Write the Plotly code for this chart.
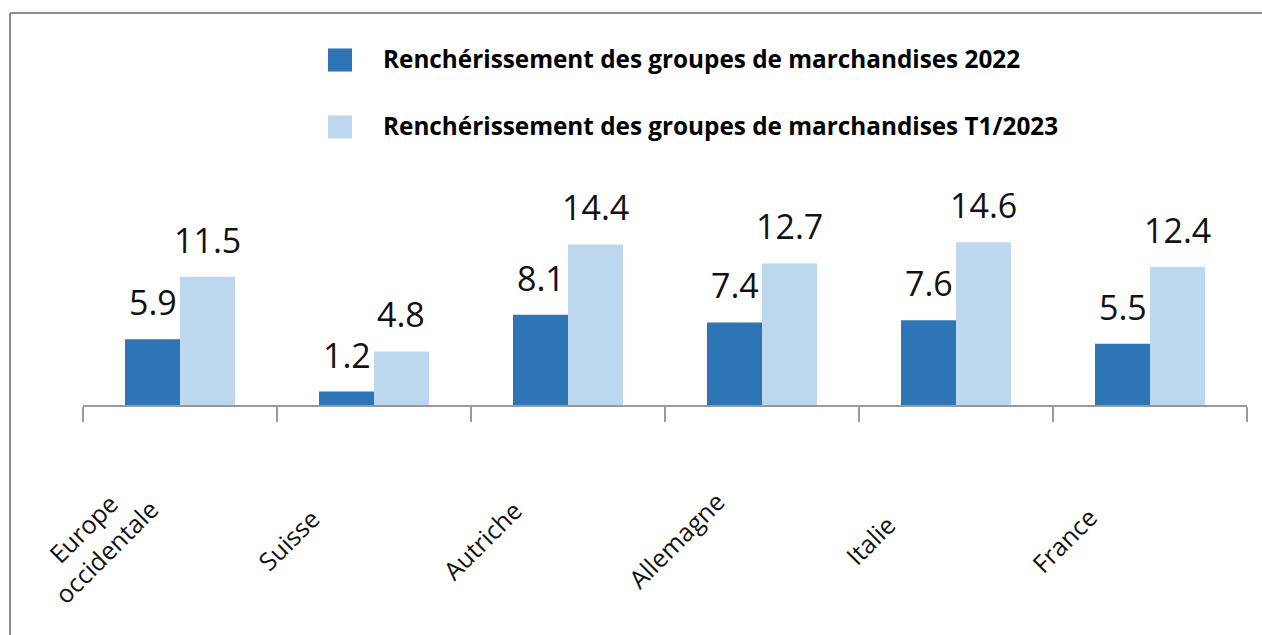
import plotly.graph_objects as go

categories = ["Europe<br>occidentale", "Suisse", "Autriche", "Allemagne", "Italie", "France"]
series_names = ["Renchérissement des groupes de marchandises 2022",
                "Renchérissement des groupes de marchandises T1/2023"]
values_2022 = [5.9, 1.2, 8.1, 7.4, 7.6, 5.5]
values_2023 = [11.5, 4.8, 14.4, 12.7, 14.6, 12.4]
colors = ["#2E75B6", "#BDD7EE"]

W, H = 1262, 635
ML, MR, MT, MB = 83, 15, 182, 230
PW, PH = W - ML - MR, H - MT - MB
BARGAP = 0.433
cat_px = PW / len(categories)
bar_px = cat_px * (1 - BARGAP) / 2

def px_x(px):
    return (px - ML) / PW

def px_y(py):
    return (H - MB - py) / PH

FONT = "Open Sans"

fig = go.Figure()
for name, vals, col in zip(series_names, [values_2022, values_2023], colors):
    fig.add_trace(go.Bar(x=categories, y=vals, name=name, marker_color=col,
                         marker_line_width=0, showlegend=False))

annotations = []
# value labels
for k, vals in enumerate([values_2022, values_2023]):
    shift = (k - 0.5) * bar_px
    for c, v in zip(categories, vals):
        annotations.append(dict(x=c, y=v, xref="x", yref="y", text=f"{v:.1f}",
                                showarrow=False, xshift=shift, yshift=12,
                                yanchor="bottom", xanchor="center",
                                font=dict(family=FONT, size=34, color="#111")))
# category labels
for c in categories:
    annotations.append(dict(x=c, y=px_y(540), xref="x", yref="paper", text=c,
                            showarrow=False, xshift=-86, textangle=-45,
                            xanchor="center", yanchor="middle", align="center",
                            font=dict(family=FONT, size=25, color="#111")))
# legend
shapes = []
leg_rows = [60, 127]
for name, col, yc in zip(series_names, colors, leg_rows):
    shapes.append(dict(type="rect", xref="paper", yref="paper",
                       x0=px_x(328), x1=px_x(352), y0=px_y(yc - 11.5), y1=px_y(yc + 11.5),
                       fillcolor=col, line=dict(width=0)))
    annotations.append(dict(x=px_x(381), y=px_y(yc - 1), xref="paper", yref="paper",
                            text=f"<b>{name}</b>", showarrow=False,
                            xanchor="left", yanchor="middle",
                            font=dict(family=FONT, size=24.3, color="#000")))
# frame (top and left border)
shapes.append(dict(type="line", xref="paper", yref="paper",
                   x0=px_x(10), x1=px_x(W + 5), y0=px_y(13), y1=px_y(13),
                   line=dict(color="#8c8c8c", width=2)))
shapes.append(dict(type="line", xref="paper", yref="paper",
                   x0=px_x(10), x1=px_x(10), y0=px_y(13), y1=px_y(H + 5),
                   line=dict(color="#8c8c8c", width=2)))

fig.update_layout(
    width=W, height=H,
    margin=dict(l=ML, r=MR, t=MT, b=MB, pad=0),
    paper_bgcolor="white", plot_bgcolor="white",
    barmode="group", bargap=BARGAP, bargroupgap=0,
    showlegend=False,
    annotations=annotations, shapes=shapes,
    xaxis=dict(range=[-0.5, len(categories) - 0.5], autorange=False,
               showticklabels=False, showline=True, linecolor="#999", linewidth=1.5,
               ticks="outside", tickson="boundaries", ticklen=15, tickcolor="#999",
               tickwidth=1.5, showgrid=False, zeroline=False),
    yaxis=dict(range=[0, 20], autorange=False, visible=False, showgrid=False, zeroline=False),
)

fig.write_html("out.html", config={"displayModeBar": False})
